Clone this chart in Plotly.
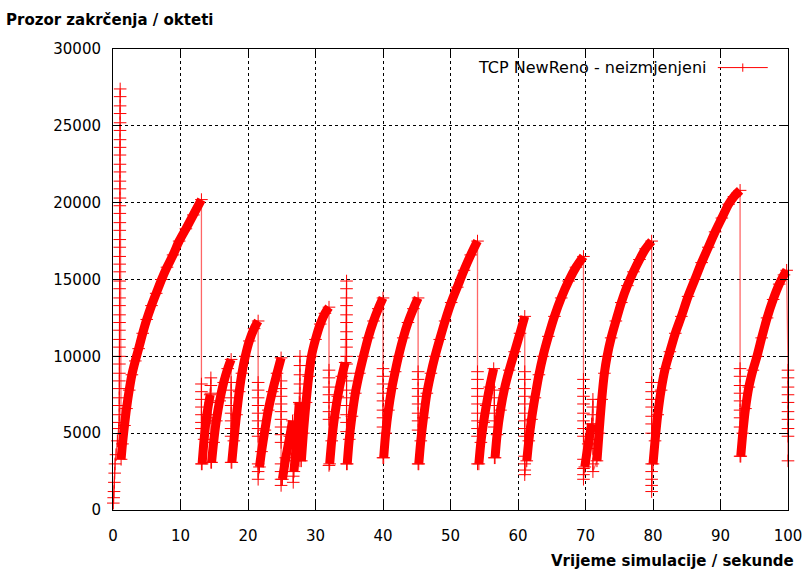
import plotly.graph_objects as go

# ---------------- data ----------------
# initial slow start (time s, cwnd bytes)
ss_t = [0.05, 0.10, 0.15, 0.20, 0.25, 0.30, 0.45, 0.65, 0.85]
ss_cwnd = [450, 800, 1200, 1800, 2400, 3000, 3600, 4500, 5300]

# first burst that climbs to ~27400 bytes
spike_t = [0.92, 0.92, 0.93, 0.93, 0.94, 0.94, 0.95, 0.95, 0.95, 0.96,
           0.96, 0.96, 0.97, 0.97, 0.97, 0.98, 0.98, 0.98, 0.99, 0.99,
           0.99, 1.00, 1.00, 1.00, 1.01, 1.01, 1.01, 1.02, 1.02, 1.02,
           1.03, 1.03, 1.03, 1.04, 1.04, 1.04, 1.05, 1.05, 1.05, 1.06, 1.06]
spike_cwnd = [5700, 6200, 6800, 7300, 7900, 8400, 8900, 9500, 10000, 10600,
              11100, 11700, 12200, 12700, 13300, 13800, 14400, 14900, 15500, 16000,
              16500, 17100, 17600, 18200, 18700, 19300, 19800, 20300, 20900, 21400,
              22000, 22500, 23100, 23600, 24100, 24700, 25200, 25800, 26300, 26900, 27400]

# congestion-avoidance ramps
ramp_t = [
    [1.2, 1.4, 1.7, 2.0, 2.4, 2.8, 3.3, 3.8, 4.4, 5.0, 5.7, 6.4, 7.2, 8.0, 8.9, 9.8, 10.8, 11.9, 13.1],
    [13.2, 13.5, 13.9, 14.4],
    [14.6, 14.9, 15.3, 15.8, 16.4, 17.0, 17.5],
    [17.6, 17.9, 18.3, 18.7, 19.1, 19.6, 20.2, 20.9, 21.5],
    [21.7, 22.0, 22.5, 23.0, 23.6, 24.3, 24.9],
    [25.1, 25.6, 26.2, 26.6],
    [26.8, 27.2, 27.6],
    [27.9, 28.2, 28.6, 29.0, 29.4, 30.0, 30.7, 31.4, 32.0],
    [32.1, 32.4, 32.8, 33.3, 33.9, 34.4],
    [34.7, 35.0, 35.4, 35.9, 36.5, 37.1, 37.8, 38.6, 39.3, 40.0],
    [40.1, 40.4, 40.8, 41.3, 41.8, 42.3, 43.0, 43.7, 44.5, 45.2],
    [45.3, 45.6, 46.0, 46.5, 47.1, 47.7, 48.4, 49.2, 50.1, 51.0, 52.0, 53.0, 54.0],
    [54.2, 54.5, 54.9, 55.3, 55.8, 56.4],
    [56.6, 56.9, 57.4, 58.0, 58.7, 59.5, 60.3, 61.0],
    [61.3, 61.6, 62.0, 62.5, 63.1, 63.7, 64.5, 65.4, 66.4, 67.5, 68.6, 69.7],
    [69.9, 70.4, 70.9],
    [71.7, 72.0, 72.4, 72.8, 73.2, 73.8, 74.5, 75.3, 76.2, 77.1, 78.0, 78.9, 79.8],
    [80.0, 80.3, 80.7, 81.2, 81.8, 82.5, 83.3, 84.2, 85.2, 86.2, 87.2, 88.2, 89.2, 90.2, 91.2, 92.0, 92.9],
    [93.0, 93.3, 93.7, 94.2, 94.8, 95.4, 96.1, 96.9, 97.8, 98.7, 99.4, 99.8],
]
ramp_cwnd = [
    [3300, 4300, 5500, 6600, 7800, 8800, 9700, 10500, 11500, 12400, 13300, 14100, 15000, 15800, 16600, 17500, 18300, 19200, 20200],
    [3000, 4600, 6200, 7500],
    [3100, 4400, 5800, 7100, 8300, 9200, 9800],
    [3100, 4500, 6200, 7700, 8900, 10000, 11000, 11800, 12300],
    [2800, 3800, 5200, 6500, 7700, 8900, 9900],
    [2000, 3400, 4800, 5800],
    [2500, 4500, 7000],
    [3200, 5000, 7000, 8700, 10000, 11100, 12100, 12800, 13200],
    [3000, 4500, 6000, 7400, 8700, 9600],
    [3000, 4600, 6100, 7600, 8900, 10000, 11200, 12300, 13100, 13800],
    [3400, 5000, 6500, 7900, 9000, 10000, 11200, 12200, 13100, 13800],
    [3000, 4500, 6000, 7600, 8900, 10000, 11100, 12300, 13500, 14500, 15600, 16600, 17500],
    [3000, 4400, 5700, 6800, 8000, 9200],
    [3400, 4900, 6500, 7900, 9100, 10300, 11500, 12600],
    [3200, 4500, 5900, 7300, 8800, 10000, 11300, 12600, 13800, 14900, 15800, 16500],
    [2800, 4300, 5600],
    [3200, 5000, 7200, 8900, 10000, 11200, 12300, 13500, 14600, 15500, 16300, 17000, 17500],
    [3000, 4500, 6200, 7800, 9200, 10300, 11500, 12600, 13900, 15000, 16100, 17100, 18100, 19000, 19900, 20400, 20800],
    [3500, 5000, 6600, 8000, 9100, 10000, 11200, 12500, 13700, 14700, 15300, 15600],
]

# recovery points after each loss (time of the drop, cwnd values)
drop_t = [13.1, 14.5, 17.5, 21.5, 24.9, 26.7, 27.7, 32.0, 34.6, 40.0,
          45.2, 54.0, 56.5, 61.0, 69.7, 71.1, 79.8, 92.9, 100.0]
drop_cwnd = [
    [8200, 7700, 7200, 6700, 6200, 5700, 5300, 3000],
    [8600, 8100, 7600, 7000, 6000, 3100],
    [8300, 7800, 7300, 6800, 6300, 5800, 5300, 4800, 3100],
    [8300, 7800, 7300, 6800, 6300, 5800, 5300, 4800, 3000, 2500, 2000],
    [8400, 7900, 7400, 6900, 6400, 5900, 5400, 4900, 4400, 3000, 2500, 2000, 1600],
    [4500, 3200, 2200, 1800],
    [10000, 9400, 8800, 8200, 7600, 6900, 6200, 5500, 4800, 3200],
    [9100, 8600, 8000, 7500, 7000, 6400, 5900, 2900],
    [14900, 14400, 13800, 13300, 12700, 12200, 11600, 11100, 10600, 10000,
     9500, 8900, 8400, 7800, 7300, 6800, 6200, 5700, 5100, 3000],
    [9200, 8700, 8200, 7600, 7100, 6500, 6000, 5400, 3400],
    [9000, 8500, 7900, 7400, 6900, 6300, 5800, 5200, 3000],
    [9000, 8500, 7900, 7400, 6900, 6300, 5800, 5300, 4800, 3000],
    [7800, 7300, 6800, 6300, 5800, 5400, 3400],
    [9000, 8500, 7900, 7400, 6900, 6300, 5800, 5300, 4800, 3500, 3000, 2600, 2300],
    [8500, 7900, 7400, 6900, 6300, 5800, 5300, 4800, 3300, 2700, 2300, 2000],
    [7200, 6700, 6200, 5600, 5100, 4600, 4000, 3000, 2500],
    [8300, 7700, 7200, 6700, 6100, 5600, 5000, 3000, 2500, 2000, 1600, 1200],
    [9200, 8700, 8100, 7600, 7100, 6500, 6000, 5400, 3500],
    [9100, 8600, 8000, 7500, 7000, 6400, 5900, 5300, 4800, 3200],
]

x_ticks = [0, 10, 20, 30, 40, 50, 60, 70, 80, 90, 100]
y_ticks = [0, 5000, 10000, 15000, 20000, 25000, 30000]

series_name = "TCP NewReno - neizmjenjeni"
y_title = "Prozor zakrčenja / okteti"
x_title = "Vrijeme simulacije / sekunde"

# ---------------- build the series ----------------
xs = list(ss_t) + list(spike_t)
ys = list(ss_cwnd) + list(spike_cwnd)
band_x, band_y = [], []
for rt, rv, dt, dv in zip(ramp_t, ramp_cwnd, drop_t, drop_cwnd):
    xs += rt
    ys += rv
    xs += [dt] * len(dv)
    ys += dv
    band_x += rt + [None]
    band_y += rv + [None]

RED = "#ff0000"
FONT = "DejaVu Sans"

fig = go.Figure()
# dense run of points drawn as a thick band
fig.add_trace(go.Scatter(
    x=band_x, y=band_y, mode="lines",
    line=dict(color=RED, width=9, shape="spline", smoothing=0.8),
    hoverinfo="skip", showlegend=False, cliponaxis=False, connectgaps=False))
# the series itself: thin line with + points
fig.add_trace(go.Scatter(
    x=xs, y=ys, mode="lines+markers", name=series_name,
    line=dict(color="rgba(255,0,0,0.6)", width=1.3),
    marker=dict(symbol="cross-thin", size=9, color=RED,
                line=dict(color=RED, width=1)),
    showlegend=False, cliponaxis=False))

axis_common = dict(
    showline=True, linecolor="black", linewidth=1, mirror="ticks",
    ticks="inside", ticklen=8, tickcolor="black", tickwidth=1,
    showgrid=True, gridcolor="black", gridwidth=1, griddash="3px,3px",
    zeroline=False, tickformat="d", automargin=False,
    tickfont=dict(family=FONT, size=15, color="black"),
)
fig.update_xaxes(range=[0, 100], tickvals=x_ticks, ticklabelstandoff=12, **axis_common)
fig.update_yaxes(range=[0, 30000], tickvals=y_ticks, ticklabelstandoff=8, **axis_common)

# key box (white, hides the grid behind the key)
fig.add_shape(type="rect", xref="x", yref="y", x0=49.2, x1=98.3, y0=28050, y1=29480,
              fillcolor="white", line=dict(width=0), layer="below")
# legend drawn gnuplot-style: text, then line sample with a point
lx0, lx1, ly = 89.6, 97.0, 28790
lxm = (lx0 + lx1) / 2
fig.add_shape(type="line", xref="x", yref="y", x0=lx0, x1=lx1, y0=ly, y1=ly,
              line=dict(color=RED, width=1))
fig.add_shape(type="line", xref="x", yref="y", x0=lxm, x1=lxm,
              y0=ly - 270, y1=ly + 270, line=dict(color=RED, width=1))
fig.add_annotation(x=lx0 - 1.45, y=ly, xref="x", yref="y", text=series_name,
                   showarrow=False, xanchor="right", yanchor="middle",
                   font=dict(family=FONT, size=16, color="black"))

fig.add_annotation(x=-0.1615, y=1.063, xref="paper", yref="paper",
                   text="<b>" + y_title + "</b>", showarrow=False,
                   xanchor="left", yanchor="middle",
                   font=dict(family=FONT, size=15, color="black"))
fig.add_annotation(x=1.0119, y=-0.1106, xref="paper", yref="paper",
                   text="<b>" + x_title + "</b>", showarrow=False,
                   xanchor="right", yanchor="middle",
                   font=dict(family=FONT, size=15, color="black"))

fig.update_layout(
    width=807, height=572,
    margin=dict(l=113, r=19, t=49, b=62),
    paper_bgcolor="white", plot_bgcolor="white",
    showlegend=False,
)

fig.write_html("out.html", config={"displayModeBar": False},
               post_script="document.body.style.margin='0';document.body.style.padding='0';")
